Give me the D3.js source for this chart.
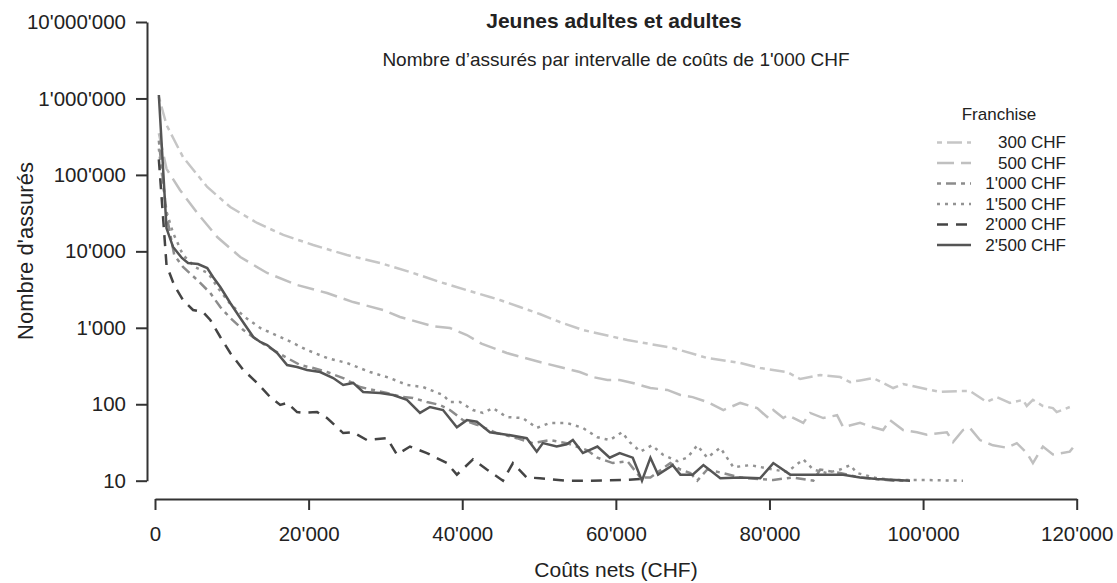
<!DOCTYPE html>
<meta charset="utf-8">
<html>
<head>
<style>
  body { margin: 0; background: #fff; }
  text { font-family: "Liberation Sans", Arial, sans-serif; fill: #222; }
  .axis path, .axis line { stroke: #333; stroke-width: 2px; }
  .axis text { fill: #222; font-size: 20.5px; font-family: "Liberation Sans", Arial, sans-serif; }
  .serie { fill: none; stroke-width: 2.5px; }
</style>
<script src="https://d3js.org/d3.v7.min.js"></script>
</head>
<body>
<div id="chart"></div>
<script>
// chart size
var width = 1117, height = 583;

// series: [net costs (CHF), number of insured]
var franchise300 = [[500,1050000],[1500,450000],[2500,286000],[3650,171000],[6800,69500],[9800,38000],[13300,23500],[16700,16400],[20600,12100],[25000,8960],
  [29300,7040],[33600,5210],[37100,3970],[41400,2940],[43600,2530],[44900,2310],[47500,1870],[50100,1515],[52700,1190],[55700,936],
  [61500,692],[67400,544],[71900,403],[76200,346],[78800,298],[82300,264],[84000,214],[86600,241],[89200,227],[90500,195],
  [91800,205],[93500,220],[96100,163],[97400,184],[99200,168],[102200,145],[104800,149],[106100,149],[108300,107],[109600,124],
  [111300,104],[113000,114],[113500,95],[114300,114],[115600,95],[116900,89],[117400,79],[119100,92]];

var franchise500 = [[500,350000],[1500,120000],[3250,63400],[5500,31800],[8100,15400],[11100,8430],[14600,5210],[18500,3630],[22400,2850],[25800,2170],
  [29700,1710],[31900,1384],[36200,1050],[38400,994],[40600,805],[42500,620],[45800,468],[50100,357],[52700,307],[55300,264],
  [57000,227],[58900,208],[60500,208],[62200,190],[64500,163],[66700,154],[68400,132],[70000,124],[71900,107],[74000,84],
  [76200,104],[78400,89],[79700,68],[80500,84],[81800,66],[82400,72],[84400,57],[85300,77],[87000,66],[88800,72],
  [89600,50],[91800,57],[93500,50],[94800,46],[95700,62],[97400,46],[99200,43],[100500,40],[103100,43],[103900,32],
  [105200,46],[106100,49],[107400,34],[109100,29],[110900,27],[112200,31],[113500,23],[114300,17],[115600,28],[116900,22],
  [119100,24],[119500,27]];

var franchise1000 = [[500,280000],[1500,30000],[2500,9000],[3650,6240],[5500,4220],[7200,2850],[8500,1870],[9800,1343],[11500,936],[13300,692],
  [15400,512],[17200,403],[18900,326],[20600,298],[22400,264],[24500,220],[26700,168],[28400,154],[30200,140],[32300,124],
  [33600,121],[35400,107],[37100,98],[38400,84],[40100,62],[41900,54],[43600,46],[44500,42],[47100,36],[49200,31],
  [51400,34],[53600,31],[56300,25],[57600,20],[59600,17],[61500,18],[63200,11],[64500,11],[67100,17],[68400,14],
  [69700,12.6],[70600,10],[71900,14],[73900,12.6],[76200,11],[78800,10.5],[80500,10.2],[82300,10.8],[83000,11],[85700,10],
  [86600,14],[89200,12.6],[91800,11],[96100,10],[98300,10]];

var franchise1500 = [[500,220000],[1500,33000],[2350,17400],[3650,8960],[5200,6240],[6900,5210],[8300,3220],[9800,2050],[11700,1384],[13700,994],
  [17200,692],[19800,512],[22400,403],[25000,346],[28000,264],[30600,220],[32800,179],[34900,168],[37500,132],[38400,107],
  [39700,107],[41400,84],[42700,77],[44000,89],[45800,68],[47900,66],[49700,49],[51400,57],[53600,57],[55700,49],
  [57600,37],[59200,34],[60800,43],[61800,32],[63200,24],[64700,29],[66100,22],[68000,18],[69300,20],[70600,29],
  [71900,20],[73600,27],[75300,15],[77500,16],[80500,14],[82300,13],[84400,19],[85700,14],[87500,12.6],[89200,14],
  [90500,16],[91400,12.6],[94000,10.8],[96100,10.2],[100500,10.2],[105200,10]];

var franchise2000 = [[500,160000],[1500,6600],[2500,3600],[3650,2310],[4950,1710],[6250,1610],[7200,1265],[8500,758],[9800,468],[11500,281],
  [13300,190],[15000,124],[16300,98],[17200,104],[18500,79],[19300,77],[21100,79],[22400,66],[24500,42],[25800,43],
  [27600,34],[30200,36],[31500,22],[33200,28],[35400,23],[38000,17],[39300,12],[41400,19],[43200,14],[45300,10],
  [46600,17],[48400,11],[50100,10.8],[53600,10],[56600,10],[60900,10.2],[63200,10.5]];

var franchise2500 = [[500,1110000],[1500,20000],[2350,11400],[3500,8190],[4300,7040],[5600,6830],[6800,6060],[7550,4620],[8500,3420],[9800,2110],
  [11100,1343],[12800,758],[13700,652],[14600,596],[15900,468],[17200,326],[18500,307],[19800,281],[21500,264],[23200,220],
  [24500,179],[25800,190],[27100,145],[29300,140],[31000,132],[32800,114],[34500,77],[35800,92],[37500,84],[39300,50],
  [40600,62],[41900,59],[43600,43],[45800,40],[48400,36],[49700,24],[50500,31],[52300,28],[53600,30],[54400,34],
  [55700,23],[57600,28],[59200,20],[60500,23],[62200,20],[63400,10],[64500,20],[65500,12],[67400,16],[68400,12],
  [70000,12],[71400,16],[73600,10.8],[76200,11],[78800,10.8],[80500,17],[82700,12],[89600,12],[91800,11],[94000,10.5],
  [98300,10]];

var seriesNames = ["300 CHF", "500 CHF", "1'000 CHF", "1'500 CHF", "2'000 CHF", "2'500 CHF"];
var seriesData = [franchise300, franchise500, franchise1000, franchise1500, franchise2000, franchise2500];
var xTicks = [0, 20000, 40000, 60000, 80000, 100000, 120000];
var yTicks = [10, 100, 1000, 10000, 100000, 1000000, 10000000];

// line looks per series
var colors = ["#c6c6c6", "#c0c0c0", "#8c8c8c", "#939393", "#444444", "#555555"];
var dashes = ["5,5,15,5", "17,7", "4,5,10,5", "3,5", "11,8", null];

var fmt = d3.formatLocale({decimal: ".", thousands: "'", grouping: [3], currency: ["", ""]}).format(",d");

var svg = d3.select("#chart").append("svg")
  .attr("width", width)
  .attr("height", height);

var x = d3.scaleLinear().domain([0, 120000]).range([155, 1076.7]);
var y = d3.scaleLog().domain([10, 1e7]).range([480.7, 22]);

// axes (R style, detached)
svg.append("g")
  .attr("class", "axis")
  .attr("transform", "translate(147,0)")
  .call(d3.axisLeft(y).tickValues(yTicks).tickFormat(fmt).tickSize(11).tickSizeOuter(0).tickPadding(10));

svg.append("g")
  .attr("class", "axis")
  .attr("transform", "translate(0,499)")
  .call(d3.axisBottom(x).tickValues(xTicks).tickFormat(fmt).tickSize(11).tickSizeOuter(0).tickPadding(16));

// lines
var line = d3.line()
  .x(function(d) { return x(d[0]); })
  .y(function(d) { return y(d[1]); });

svg.selectAll(".serie")
  .data(seriesData)
  .enter()
  .append("path")
  .attr("class", "serie")
  .attr("d", line)
  .style("stroke", function(d, i) { return colors[i]; })
  .style("stroke-dasharray", function(d, i) { return dashes[i]; });

// titles
svg.append("text")
  .attr("x", 614).attr("y", 28)
  .attr("text-anchor", "middle")
  .style("font-size", "21px").style("font-weight", "bold")
  .text("Jeunes adultes et adultes");

svg.append("text")
  .attr("x", 616).attr("y", 66)
  .attr("text-anchor", "middle")
  .style("font-size", "19px")
  .text("Nombre d\u2019assurés par intervalle de coûts de 1'000 CHF");

svg.append("text")
  .attr("x", 616).attr("y", 577)
  .attr("text-anchor", "middle")
  .style("font-size", "21px")
  .text("Coûts nets (CHF)");

svg.append("text")
  .attr("transform", "translate(33,251) rotate(-90)")
  .attr("text-anchor", "middle")
  .style("font-size", "22px")
  .text("Nombre d'assurés");

// legend
var legend = svg.append("g");
legend.append("text")
  .attr("x", 999).attr("y", 120)
  .attr("text-anchor", "middle")
  .style("font-size", "17px")
  .text("Franchise");

var item = legend.selectAll(".item")
  .data(seriesNames)
  .enter()
  .append("g")
  .attr("class", "item")
  .attr("transform", function(d, i) { return "translate(0," + (142.5 + i * 20.5) + ")"; });

item.append("line")
  .attr("x1", 937).attr("x2", 971)
  .style("stroke-width", "2.5px")
  .style("stroke", function(d, i) { return colors[i]; })
  .style("stroke-dasharray", function(d, i) { return dashes[i]; });

item.append("text")
  .attr("x", 1066).attr("y", 0)
  .attr("dy", "0.35em")
  .attr("text-anchor", "end")
  .style("font-size", "17px")
  .text(function(d) { return d; });
</script>
</body>
</html>
